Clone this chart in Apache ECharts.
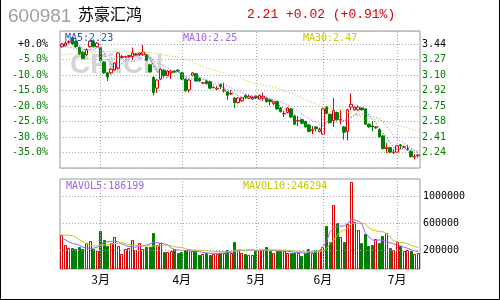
<!DOCTYPE html>
<html><head><meta charset="utf-8">
<script src="https://cdn.jsdelivr.net/npm/echarts@6/dist/echarts.min.js"></script>
<style>html,body{margin:0;padding:0;background:#fff}#c{width:500px;height:300px}</style>
</head><body><div id="c"></div><script>
// ---- data ----
const stockCode = '600981';
const stockName = '苏豪汇鸿';
const basePrice = 3.44;
const monthNames = ['2月','3月','4月','5月','6月','7月'];
const monthDays = [11,23,21,19,21,7];
// [open, close, low, high]
const ohlc = [
[3.41,3.44,3.40,3.45],[3.42,3.45,3.41,3.47],[3.46,3.465,3.45,3.48],[3.51,3.44,3.43,3.52],[3.47,3.41,3.40,3.48],
[3.40,3.33,3.32,3.41],[3.35,3.28,3.27,3.36],[3.32,3.38,3.31,3.39],[3.41,3.47,3.40,3.48],[3.47,3.41,3.40,3.49],
[3.41,3.45,3.40,3.46],[3.40,3.255,3.25,3.41],[3.24,3.12,3.11,3.25],[3.12,3.075,3.03,3.13],[3.12,3.16,3.10,3.17],
[3.15,3.23,3.14,3.24],[3.17,3.34,3.16,3.35],[3.29,3.30,3.28,3.32],[3.295,3.30,3.29,3.31],[3.30,3.31,3.29,3.32],
[3.30,3.34,3.26,3.40],[3.32,3.33,3.31,3.34],[3.32,3.34,3.31,3.35],[3.32,3.35,3.31,3.43],[3.32,3.26,3.25,3.33],
[3.21,3.13,3.12,3.22],[3.07,2.90,2.87,3.08],[2.95,3.04,2.90,3.05],[3.05,3.16,3.04,3.17],[3.15,3.09,3.07,3.16],
[3.09,3.14,3.08,3.15],[3.12,3.14,3.05,3.15],[3.14,3.13,3.12,3.15],[3.15,3.14,3.13,3.16],[3.12,3.05,3.04,3.13],
[3.05,2.92,2.91,3.06],[2.93,3.04,2.90,3.05],[3.09,3.12,3.08,3.13],[3.11,3.03,3.02,3.12],[3.06,3.03,3.02,3.07],
[3.005,3.01,3.00,3.02],[3.03,3.00,2.99,3.04],[3.02,2.95,2.94,3.03],[2.955,2.96,2.95,2.97],[2.94,2.95,2.93,2.97],
[2.99,2.97,2.94,3.00],[2.92,2.93,2.90,3.01],[2.91,2.87,2.82,2.92],[2.885,2.89,2.88,2.92],[2.84,2.79,2.73,2.85],
[2.79,2.84,2.78,2.85],[2.81,2.84,2.80,2.85],[2.87,2.85,2.83,2.88],[2.84,2.86,2.83,2.88],[2.83,2.85,2.82,2.86],
[2.86,2.84,2.83,2.87],[2.83,2.87,2.82,2.88],[2.84,2.86,2.81,2.90],[2.84,2.80,2.79,2.85],[2.82,2.80,2.76,2.83],
[2.78,2.80,2.76,2.81],[2.80,2.72,2.71,2.81],[2.73,2.69,2.68,2.74],[2.665,2.67,2.63,2.70],[2.68,2.73,2.67,2.74],
[2.72,2.63,2.62,2.73],[2.64,2.55,2.54,2.65],[2.585,2.59,2.53,2.64],[2.60,2.56,2.55,2.61],[2.58,2.52,2.51,2.59],
[2.54,2.47,2.46,2.55],[2.48,2.49,2.44,2.53],[2.52,2.50,2.47,2.53],[2.47,2.49,2.46,2.51],[2.44,2.72,2.43,2.73],
[2.74,2.67,2.66,2.75],[2.66,2.57,2.56,2.67],[2.59,2.70,2.52,2.84],[2.68,2.60,2.59,2.69],[2.595,2.60,2.55,2.71],
[2.52,2.46,2.38,2.53],[2.47,2.71,2.37,2.72],[2.74,2.77,2.71,2.89],[2.71,2.74,2.70,2.75],[2.71,2.74,2.70,2.76],
[2.73,2.71,2.70,2.74],[2.72,2.55,2.54,2.73],[2.55,2.52,2.51,2.56],[2.53,2.52,2.47,2.58],[2.51,2.52,2.50,2.53],
[2.49,2.41,2.40,2.50],[2.42,2.28,2.27,2.43],[2.28,2.29,2.23,2.34],[2.29,2.24,2.23,2.30],[2.235,2.24,2.22,2.27],
[2.24,2.31,2.23,2.32],[2.32,2.31,2.27,2.33],[2.295,2.30,2.29,2.31],[2.265,2.27,2.26,2.32],[2.25,2.19,2.18,2.26],
[2.185,2.19,2.16,2.22],[2.20,2.21,2.18,2.21]
];
const volumes = [
430000,283000,244000,244000,225000,250000,225000,308000,346000,225000,196000,
489000,357000,273000,308000,396000,269000,152000,225000,235000,357000,210000,308000,225000,250000,250000,464000,283000,308000,186000,186000,196000,225000,166000,
186000,210000,225000,200000,196000,137000,152000,161000,137000,152000,152000,161000,171000,210000,161000,332000,210000,171000,150000,137000,137000,
196000,210000,210000,250000,196000,161000,196000,196000,196000,161000,161000,171000,171000,122000,171000,225000,171000,210000,210000,
250000,562000,332000,870000,601000,396000,332000,591000,1211000,625000,503000,317000,445000,269000,283000,367000,317000,415000,464000,244000,210000,
332000,269000,200000,215000,200000,150000,166000
];
const ma5 = [3.44,3.44,3.445,3.445,3.441,3.419,3.385,3.368,3.374,3.374,3.398,3.393,3.341,3.262,3.212,3.168,3.185,3.221,3.266,3.296,
3.318,3.316,3.324,3.334,3.324,3.282,3.196,3.136,3.098,3.064,3.066,3.114,3.132,3.128,3.12,3.076,3.056,3.054,3.032,3.028,
3.046,3.038,3.004,2.99,2.974,2.966,2.952,2.936,2.922,2.89,2.864,2.846,2.846,2.836,2.842,2.842,2.848,2.838,2.83,2.83,
2.81,2.774,2.75,2.724,2.706,2.684,2.656,2.634,2.612,2.57,2.538,2.526,2.512,2.494,2.534,2.574,2.59,2.626,2.652,2.628,
2.586,2.614,2.628,2.656,2.684,2.734,2.702,2.652,2.608,2.564,2.504,2.45,2.404,2.348,2.292,2.272,2.278,2.28,2.286,2.276,2.252,2.232];
const ma10 = [3.42,3.41,3.40,3.40,3.39,3.38,3.37,3.37,3.38,3.408,3.409,3.389,3.355,3.318,3.293,3.283,3.289,3.281,3.264,3.254,
3.243,3.251,3.273,3.30,3.31,3.30,3.256,3.23,3.216,3.194,3.174,3.155,3.134,3.113,3.092,3.071,3.085,3.093,3.08,3.074,
3.061,3.047,3.029,3.011,3.001,3.006,2.995,2.97,2.956,2.932,2.915,2.899,2.891,2.879,2.866,2.853,2.847,2.842,2.833,2.836,
2.826,2.811,2.794,2.777,2.768,2.747,2.715,2.692,2.668,2.638,2.611,2.591,2.573,2.553,2.552,2.556,2.558,2.569,2.573,2.581,
2.58,2.602,2.627,2.654,2.656,2.66,2.658,2.64,2.632,2.624,2.619,2.576,2.528,2.478,2.428,2.388,2.364,2.342,2.317,2.284,2.262,2.252];
const ma30 = [3.32,3.32,3.325,3.33,3.33,3.335,3.34,3.345,3.35,3.35,3.35,3.355,3.355,3.357,3.357,3.357,3.355,3.355,3.352,3.352,
3.351,3.35,3.35,3.348,3.347,3.346,3.34,3.335,3.329,3.32,3.31,3.305,3.30,3.296,3.28,3.27,3.262,3.24,3.22,3.20,
3.185,3.175,3.165,3.15,3.14,3.129,3.12,3.11,3.095,3.085,3.074,3.06,3.04,3.025,3.01,2.996,2.99,2.985,2.978,2.97,
2.963,2.95,2.935,2.92,2.91,2.896,2.88,2.86,2.845,2.825,2.807,2.79,2.775,2.757,2.741,2.73,2.72,2.715,2.708,2.70,
2.69,2.682,2.674,2.66,2.645,2.632,2.619,2.614,2.608,2.602,2.597,2.585,2.575,2.563,2.552,2.54,2.53,2.52,2.508,2.495,2.482,2.47];
const mavol5 = [382000,360000,330000,305000,298000,280000,250000,240000,235000,235000,250000,290000,320000,330000,335000,340000,330000,300000,280000,260000,
260000,250000,270000,270000,280000,300000,320000,317000,310000,300000,290000,240000,215000,210000,205000,200000,200000,198000,196000,185000,
175000,168000,162000,162000,160000,165000,168000,170000,175000,205000,210000,210000,205000,210000,210000,200000,205000,210000,210000,210000,
205000,200000,198000,196000,190000,185000,175000,172000,168000,165000,175000,180000,185000,200000,259000,330000,478000,530000,552000,560000,
560000,601000,650000,650000,630000,600000,464000,400000,357000,350000,357000,350000,330000,317000,300000,283000,270000,250000,235000,215000,200000,186199];
const mavol10 = [430000,430000,425000,420000,400000,360000,332000,300000,280000,270000,269000,275000,285000,290000,298000,305000,310000,317000,310000,290000,
283000,280000,275000,270000,269000,269000,269000,269000,275000,280000,280000,270000,255000,250000,245000,230000,215000,210000,210000,205000,
205000,200000,195000,190000,188000,186000,186000,186000,190000,195000,198000,200000,205000,210000,210000,210000,210000,210000,210000,210000,
210000,210000,210000,210000,205000,200000,195000,190000,188000,186000,186000,186000,186000,190000,200000,230000,300000,357000,420000,480000,
500000,528000,601000,601000,601000,601000,590000,540000,503000,490000,480000,478000,450000,400000,342000,330000,320000,317000,300000,280000,260000,246294];
const volTicks = [200000, 600000, 1000000];

// ---- build ----
const RED = '#dd0000', GREEN = '#008000', GRIDC = '#a8a8a8';
const MONO = '"DejaVu Sans Mono", "Liberation Mono", monospace';
const YMIN = basePrice * 0.6, STEP = basePrice * 0.05, YMAX = 3.5843;
const VMIN = -68000, VMAX = 1249000;
const cats = [], monthStarts = [];
monthNames.forEach((m, k) => { for (let d = 0; d < monthDays[k]; d++) { if (d === 0 && k > 0) monthStarts.push(cats.length); cats.push(m + '#' + (d + 1)); } });
const last = ohlc.length - 1;
const lastClose = ohlc[last][1], prevClose = ohlc[last - 1][1];
const chg = lastClose - prevClose;
const headText = lastClose.toFixed(2) + ' ' + (chg >= 0 ? '+' : '') + chg.toFixed(2) + ' (' + (chg >= 0 ? '+' : '') + (chg / prevClose * 100).toFixed(2) + '%)';
const volData = volumes.map((v, i) => [i, v, ohlc[i][1] >= ohlc[i][0] ? 1 : 0]);
const dotted = { color: GRIDC, type: [1, 2], width: 1 };
const monthLines = monthStarts.map(i => ({ xAxis: cats[i], label: { show: false } }));

const chart = echarts.init(document.getElementById('c'), null, { renderer: 'canvas', width: 500, height: 300 });
chart.setOption({
  animation: false,
  backgroundColor: '#fff',
  grid: [
    { left: 60, top: 31, width: 360, height: 137, show: true, borderColor: '#999', borderWidth: 1, backgroundColor: 'transparent', containLabel: false, outerBoundsMode: 'none' },
    { left: 60, top: 179, width: 360, height: 90, show: true, borderColor: '#999', borderWidth: 1, backgroundColor: 'transparent', containLabel: false, outerBoundsMode: 'none' }
  ],
  xAxis: [
    { type: 'category', gridIndex: 0, data: cats, boundaryGap: true, axisLine: { show: false }, axisTick: { show: false }, axisLabel: { show: false }, splitLine: { show: false } },
    { type: 'category', gridIndex: 1, data: cats, boundaryGap: true, axisLine: { show: false }, axisTick: { show: false }, splitLine: { show: false },
      axisLabel: { show: true, interval: (i) => monthStarts.indexOf(i) >= 0, formatter: (v) => v.split('#')[0], color: '#000', fontSize: 12, fontFamily: '"Noto Sans CJK SC"', margin: 4 } }
  ],
  yAxis: [
    { type: 'value', gridIndex: 0, position: 'left', min: YMIN, max: YMAX, interval: STEP, axisLine: { show: false }, axisTick: { show: false },
      splitLine: { show: true, lineStyle: dotted },
      axisLabel: { margin: 12, showMinLabel: false, showMaxLabel: false, fontFamily: MONO, fontSize: 10,
        formatter: (v) => { const p = (v / basePrice - 1) * 100; const s = p.toFixed(1); return (Math.abs(p) < 0.05 ? '+0.0' : (p > 0 ? '+' + s : s)) + '%'; },
        color: (v) => Math.abs(v - basePrice) < 1e-6 ? '#000' : GREEN } },
    { type: 'value', gridIndex: 0, position: 'right', min: YMIN, max: YMAX, interval: STEP, axisLine: { show: false }, axisTick: { show: false },
      splitLine: { show: false },
      axisLabel: { margin: 2, showMinLabel: false, showMaxLabel: false, fontFamily: MONO, fontSize: 10,
        formatter: (v) => v.toFixed(2), color: (v) => Math.abs(v - basePrice) < 1e-6 ? '#000' : GREEN } },
    { type: 'value', gridIndex: 1, min: VMIN, max: VMAX, show: false }
  ],
  series: [
    { type: 'candlestick', xAxisIndex: 0, yAxisIndex: 0, data: ohlc, barWidth: 3, silent: true,
      itemStyle: { color: '#fff', color0: GREEN, borderColor: RED, borderColor0: GREEN, borderColorDoji: RED, borderWidth: 1 },
      markLine: { silent: true, symbol: 'none', animation: false, lineStyle: dotted, data: monthLines } },
    { type: 'line', xAxisIndex: 0, yAxisIndex: 0, data: ma5, symbol: 'none', silent: true, lineStyle: { color: '#1f4fa8', width: 1, type: [1, 2] } },
    { type: 'line', xAxisIndex: 0, yAxisIndex: 0, data: ma10, symbol: 'none', silent: true, lineStyle: { color: '#a060f0', width: 1, type: [1, 2] } },
    { type: 'line', xAxisIndex: 0, yAxisIndex: 0, data: ma30, symbol: 'none', silent: true, lineStyle: { color: '#c8c800', width: 1, type: [1, 2] } },
    { type: 'custom', xAxisIndex: 1, yAxisIndex: 2, data: volData, silent: true, clip: true,
      renderItem: (params, api) => {
        const i = api.value(0), v = api.value(1), up = api.value(2);
        const p = api.coord([i, v]), b = api.coord([i, VMIN]);
        const x = Math.round(p[0] - 1.5) + 0.5, y = Math.round(p[1]) + 0.5;
        return { type: 'rect', shape: { x: x, y: y, width: 2, height: Math.max(0, b[1] - y) },
          style: { fill: up ? '#fff' : GREEN, stroke: up ? RED : GREEN, lineWidth: 1 } };
      } },
    { type: 'line', xAxisIndex: 1, yAxisIndex: 2, data: mavol5, symbol: 'none', silent: true, lineStyle: { color: '#a060f0', width: 1 },
      markLine: { silent: true, symbol: 'none', animation: false, lineStyle: dotted,
        data: monthLines.concat(volTicks.map(t => ({ yAxis: t, label: { show: true, position: 'end', distance: 3, formatter: String(t), color: '#000', fontFamily: MONO, fontSize: 10 } }))) } },
    { type: 'line', xAxisIndex: 1, yAxisIndex: 2, data: mavol10, symbol: 'none', silent: true, lineStyle: { color: '#c8c800', width: 1 } }
  ],
  graphic: [
    { type: 'text', z: 1, style: { x: 70, y: 65, text: 'CFi.CN', fill: '#d4d4d4', font: 'bold 28px "Liberation Sans"', verticalAlign: 'middle' } },
    { type: 'text', style: { x: 8, y: 17, text: stockCode, fill: '#a0a0a0', font: '19px "Liberation Sans"', verticalAlign: 'middle' } },
    { type: 'text', style: { x: 78, y: 14, text: stockName, fill: '#000', font: '16px "Noto Sans CJK SC"', verticalAlign: 'middle' } },
    { type: 'text', style: { x: 247, y: 14.5, text: headText, fill: RED, font: '13px "Liberation Mono"', verticalAlign: 'middle' } },
    { type: 'text', z: 10, style: { x: 65, y: 38, text: 'MA5:' + ma5[last].toFixed(2), fill: '#1f4fa8', font: '10px ' + MONO, verticalAlign: 'middle' } },
    { type: 'text', z: 10, style: { x: 183, y: 38, text: 'MA10:' + ma10[last].toFixed(2), fill: '#a060f0', font: '10px ' + MONO, verticalAlign: 'middle' } },
    { type: 'text', z: 10, style: { x: 303, y: 38, text: 'MA30:' + ma30[last].toFixed(2), fill: '#c8c800', font: '10px ' + MONO, verticalAlign: 'middle' } },
    { type: 'text', z: 10, style: { x: 66, y: 186, text: 'MAVOL5:' + mavol5[last], fill: '#a060f0', font: '10px ' + MONO, verticalAlign: 'middle' } },
    { type: 'text', z: 10, style: { x: 243, y: 186, text: 'MAVOL10:' + mavol10[last], fill: '#c8c800', font: '10px ' + MONO, verticalAlign: 'middle' } },
    { type: 'polyline', shape: { points: [[0.5, 0], [0.5, 299.5], [499.5, 299.5], [499.5, 0]] }, style: { stroke: '#000', fill: null, lineWidth: 1 } }
  ]
});
</script></body></html>
